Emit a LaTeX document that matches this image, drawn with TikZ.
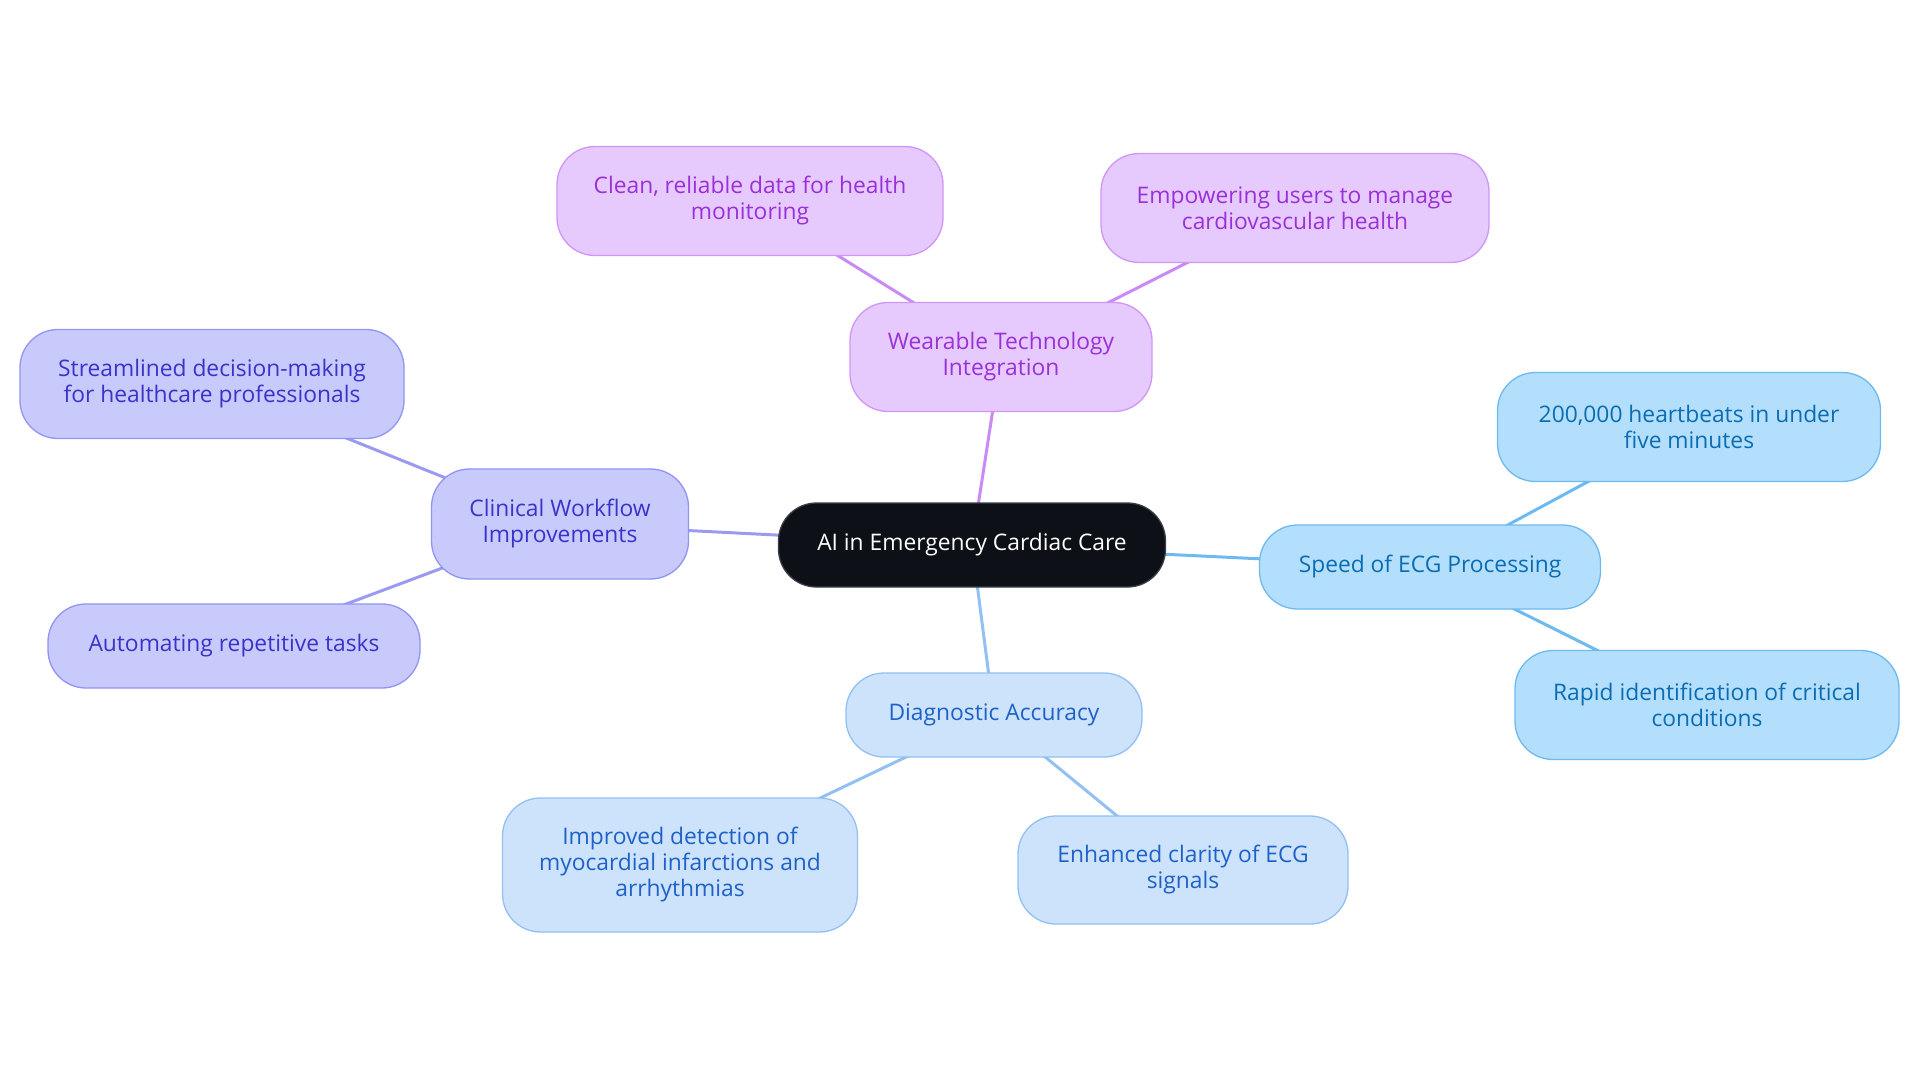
\documentclass[tikz,border=0pt]{standalone}
\usepackage{fontspec}
\setmainfont{Open Sans}
\usetikzlibrary{backgrounds}
\definecolor{rootfill}{HTML}{0D1117}
\definecolor{rootdraw}{HTML}{3A3F47}
\definecolor{purfill}{HTML}{E7CAFD}
\definecolor{purdraw}{HTML}{CF95F7}
\definecolor{purtext}{HTML}{9A30D8}
\definecolor{purline}{HTML}{C98AF5}
\definecolor{indfill}{HTML}{C8CAFC}
\definecolor{inddraw}{HTML}{9194F2}
\definecolor{indtext}{HTML}{3A33C9}
\definecolor{indline}{HTML}{9A9BF0}
\definecolor{skyfill}{HTML}{B4DFFC}
\definecolor{skydraw}{HTML}{6CBAF0}
\definecolor{skytext}{HTML}{0A6DB3}
\definecolor{skyline}{HTML}{6CBAF0}
\definecolor{blufill}{HTML}{CDE2FB}
\definecolor{bludraw}{HTML}{92C0F2}
\definecolor{blutext}{HTML}{1E62C8}
\definecolor{bluline}{HTML}{92C0F2}
\tikzset{
  box/.style={draw, line width=1.3pt, rounded corners=38pt, align=center,
    inner sep=0pt, font=\fontsize{22.8}{26}\selectfont},
  rootbox/.style={box, fill=rootfill, draw=rootdraw, text=white},
  purbox/.style={box, fill=purfill, draw=purdraw, text=purtext},
  indbox/.style={box, fill=indfill, draw=inddraw, text=indtext},
  skybox/.style={box, fill=skyfill, draw=skydraw, text=skytext},
  blubox/.style={box, fill=blufill, draw=bludraw, text=blutext},
  edge/.style={line width=3pt}
}
\begin{document}
\begin{tikzpicture}[x=1pt,y=-1pt]
\useasboundingbox (0,0) rectangle (1920,1083);
% nodes
\node[rootbox, minimum width=387pt, minimum height=84pt] (root) at (972,545) {AI in Emergency Cardiac Care};
\node[purbox, minimum width=302pt, minimum height=109pt] (wear) at (1001,357) {Wearable Technology\\Integration};
\node[purbox, minimum width=386pt, minimum height=109pt] (clean) at (750,201) {Clean, reliable data for health\\monitoring};
\node[purbox, minimum width=388pt, minimum height=109pt] (empow) at (1295,208) {Empowering users to manage\\cardiovascular health};
\node[indbox, minimum width=257pt, minimum height=110pt] (clin) at (560,524) {Clinical Workflow\\Improvements};
\node[indbox, minimum width=384pt, minimum height=109pt] (stream) at (212,384) {Streamlined decision-making\\for healthcare professionals};
\node[indbox, minimum width=372pt, minimum height=84pt] (auto) at (234,646) {Automating repetitive tasks};
\node[skybox, minimum width=341pt, minimum height=84pt] (speed) at (1430,567) {Speed of ECG Processing};
\node[skybox, minimum width=383pt, minimum height=109pt] (beats) at (1689,427) {200,000 heartbeats in under\\five minutes};
\node[skybox, minimum width=384pt, minimum height=109pt] (rapid) at (1707,705) {Rapid identification of critical\\conditions};
\node[blubox, minimum width=296pt, minimum height=84pt] (diag) at (994,715) {Diagnostic Accuracy};
\node[blubox, minimum width=355pt, minimum height=134pt] (impr) at (680,865) {Improved detection of\\myocardial infarctions and\\arrhythmias};
\node[blubox, minimum width=330pt, minimum height=108pt] (enh) at (1183,870) {Enhanced clarity of ECG\\signals};
% edges
\begin{scope}[on background layer]
\draw[edge, purline] (root.center) -- (wear.center);
\draw[edge, purline] (wear.center) -- (clean.center);
\draw[edge, purline] (wear.center) -- (empow.center);
\draw[edge, indline] (root.center) -- (clin.center);
\draw[edge, indline] (clin.center) -- (stream.center);
\draw[edge, indline] (clin.center) -- (auto.center);
\draw[edge, skyline] (root.center) -- (speed.center);
\draw[edge, skyline] (speed.center) -- (beats.center);
\draw[edge, skyline] (speed.center) -- (rapid.center);
\draw[edge, bluline] (root.center) -- (diag.center);
\draw[edge, bluline] (diag.center) -- (impr.center);
\draw[edge, bluline] (diag.center) -- (enh.center);
\end{scope}
\end{tikzpicture}
\end{document}
